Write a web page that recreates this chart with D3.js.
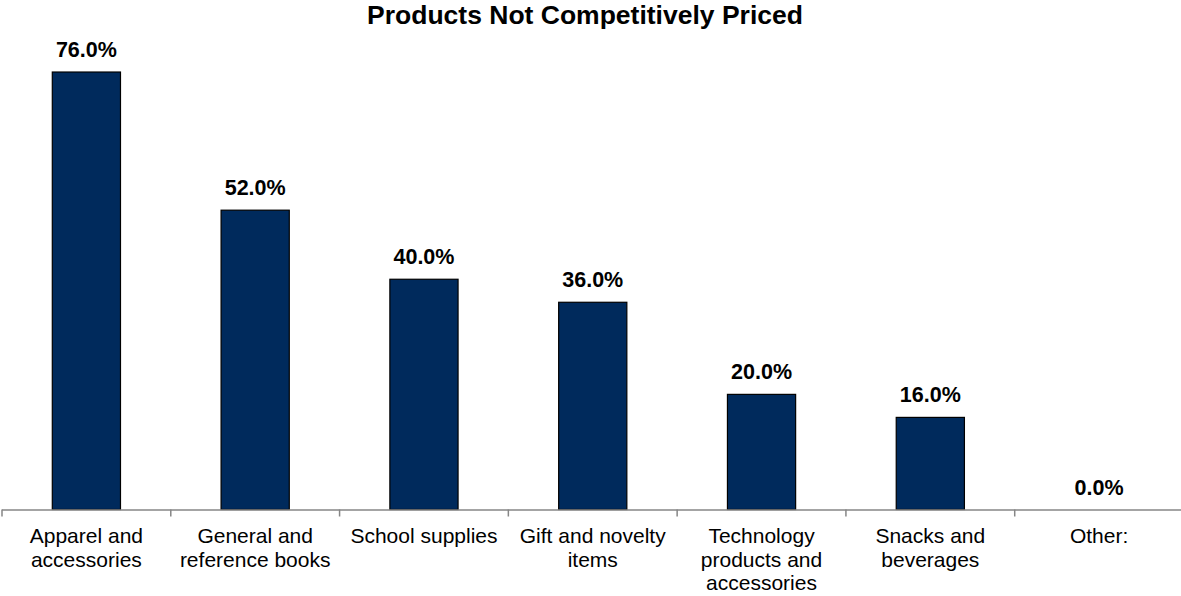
<!DOCTYPE html>
<html>
<head>
<meta charset="utf-8">
<script src="https://cdn.jsdelivr.net/npm/d3@7"></script>
<style>
  html, body { margin: 0; padding: 0; background: #ffffff; }
  svg { display: block; font-family: "Liberation Sans", Arial, sans-serif; }
</style>
</head>
<body>
<svg id="chart" width="1181" height="596"></svg>
<script>
// Share of respondents who named each product group as not competitively priced
const categories = [
  "Apparel and accessories",
  "General and reference books",
  "School supplies",
  "Gift and novelty items",
  "Technology products and accessories",
  "Snacks and beverages",
  "Other:"
];
const values = [76.0, 52.0, 40.0, 36.0, 20.0, 16.0, 0.0];
const title = "Products Not Competitively Priced";

const W = 1181, H = 596;
const plot = { left: 2, right: 1183.5, top: 49, bottom: 509.5 };

const svg = d3.select("#chart");

const x = d3.scaleBand()
  .domain(categories)
  .range([plot.left, plot.right])
  .paddingInner(0.596)
  .paddingOuter(0.298);

const y = d3.scaleLinear()
  .domain([0, 80])
  .range([plot.bottom, plot.top]);

// Title
svg.append("text")
  .attr("x", 585)
  .attr("y", 24)
  .attr("text-anchor", "middle")
  .attr("font-size", 26.5)
  .attr("font-weight", "bold")
  .attr("fill", "#000")
  .text(title);

// Bars
svg.append("g")
  .selectAll("rect")
  .data(values)
  .join("rect")
  .attr("x", (d, i) => x(categories[i]))
  .attr("y", d => y(d))
  .attr("width", x.bandwidth())
  .attr("height", d => y(0) - y(d))
  .attr("fill", "#002A5C")
  .attr("stroke", "#000")
  .attr("stroke-width", 1.2);

// Value labels
svg.append("g")
  .selectAll("text")
  .data(values)
  .join("text")
  .attr("x", (d, i) => x(categories[i]) + x.bandwidth() / 2)
  .attr("y", d => y(d) - 15)
  .attr("text-anchor", "middle")
  .attr("font-size", 21.5)
  .attr("font-weight", "bold")
  .attr("fill", "#000")
  .text(d => d3.format(".1f")(d) + "%");

// Category axis: line with ticks between categories
const xStep = x.step();
const tickPos = d3.range(categories.length + 1).map(i => plot.left + i * xStep);
const axis = svg.append("g");
axis.append("line")
  .attr("x1", plot.left).attr("x2", plot.right)
  .attr("y1", plot.bottom + 0.5).attr("y2", plot.bottom + 0.5)
  .attr("stroke", "#868686").attr("stroke-width", 1.5);
axis.selectAll("line.tick")
  .data(tickPos)
  .join("line")
  .attr("class", "tick")
  .attr("x1", d => d).attr("x2", d => d)
  .attr("y1", plot.bottom).attr("y2", plot.bottom + 7)
  .attr("stroke", "#868686").attr("stroke-width", 1.5);

// Category labels, wrapped to fit the category width
const maxLine = 160;
const labels = svg.append("g")
  .attr("font-size", 21)
  .attr("fill", "#000")
  .attr("text-anchor", "middle");

categories.forEach(name => {
  const cx = x(name) + x.bandwidth() / 2;
  const t = labels.append("text").attr("x", cx).attr("y", 543);
  const words = name.split(" ");
  let line = [];
  let lineNo = 0;
  let tspan = t.append("tspan").attr("x", cx).attr("y", 543);
  words.forEach(w => {
    line.push(w);
    tspan.text(line.join(" "));
    if (tspan.node().getComputedTextLength() > maxLine && line.length > 1) {
      line.pop();
      tspan.text(line.join(" "));
      line = [w];
      lineNo += 1;
      tspan = t.append("tspan").attr("x", cx).attr("y", 543 + lineNo * 23.5).text(w);
    }
  });
});
</script>
</body>
</html>
